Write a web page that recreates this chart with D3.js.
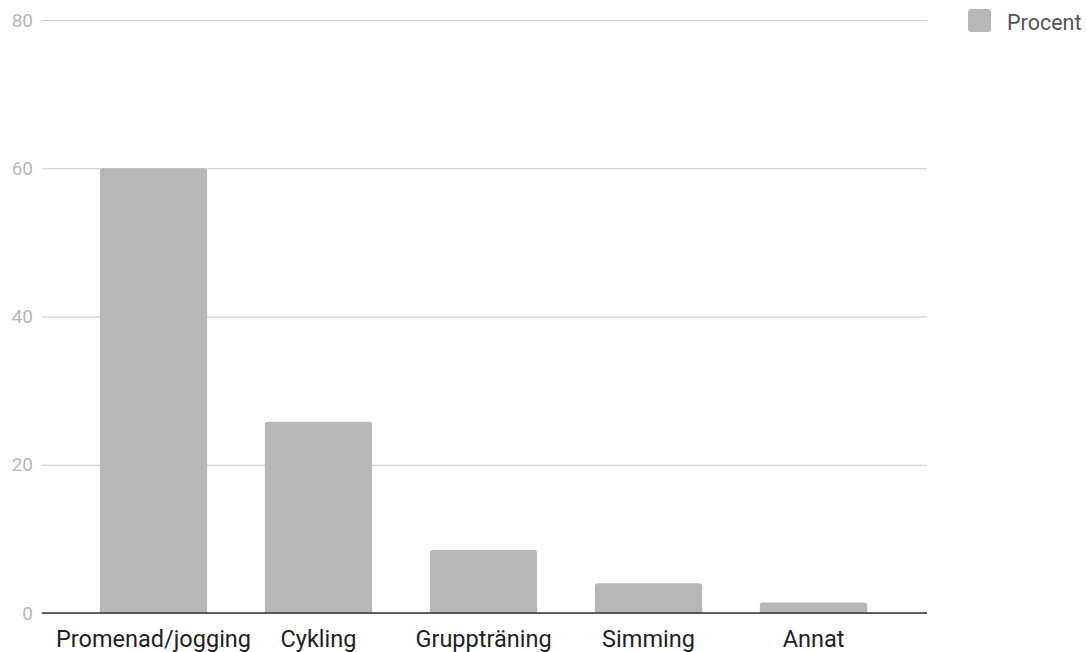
<!DOCTYPE html>
<html>
<head>
<meta charset="utf-8">
<script src="https://cdn.jsdelivr.net/npm/d3@7"></script>
<style>
  html, body { margin: 0; padding: 0; background: #fff; }
  svg { display: block; font-family: Roboto, "Noto Sans", sans-serif; }
</style>
</head>
<body>
<svg id="chart" width="1087" height="652"></svg>
<script>
// Share of respondents per activity type
const categories = ["Promenad/jogging", "Cykling", "Gruppträning", "Simming", "Annat"];
const values = [60, 25.8, 8.5, 4, 1.4];
const yTicks = [0, 20, 40, 60, 80];
const seriesName = "Procent";

const svg = d3.select("#chart");
const barColor = "#b7b7b7";

const plot = { left: 42, right: 927, top: 20, bottom: 613 };

const y = d3.scaleLinear().domain([0, 80]).range([plot.bottom, plot.top]);
const x = d3.scaleBand().domain(categories).range([71, 896]).paddingInner(0.35).paddingOuter(0.175);

// Horizontal gridlines and value labels
const yAxis = d3.axisLeft(y).tickValues(yTicks).tickSize(-(plot.right - plot.left)).tickPadding(9);
const gy = svg.append("g").attr("transform", `translate(${plot.left},0)`).call(yAxis);
gy.select(".domain").remove();
gy.selectAll(".tick line").attr("stroke", "#cccccc").attr("stroke-width", 1);
gy.selectAll(".tick text")
  .attr("fill", "#b8b8b8")
  .attr("font-size", 19)
  .attr("font-family", "Roboto, sans-serif");

// Bars
svg.append("g").selectAll("rect")
  .data(categories.map((c, i) => ({ c, v: values[i] })))
  .join("rect")
  .attr("x", d => x(d.c))
  .attr("width", x.bandwidth())
  .attr("y", d => y(d.v))
  .attr("height", d => y(0) - y(d.v))
  .attr("rx", 3)
  .attr("fill", barColor);

// Square off the bottom corners of each bar
svg.append("g").selectAll("rect")
  .data(categories.map((c, i) => ({ c, v: values[i] })))
  .join("rect")
  .attr("x", d => x(d.c))
  .attr("width", x.bandwidth())
  .attr("y", d => Math.max(y(d.v) + 3, y(0) - 4))
  .attr("height", d => y(0) - Math.max(y(d.v) + 3, y(0) - 4))
  .attr("fill", barColor);

// Category axis
const xAxis = d3.axisBottom(x).tickSize(0).tickPadding(17);
const gx = svg.append("g").attr("transform", `translate(0,${plot.bottom})`).call(xAxis);
gx.select(".domain").remove();
gx.selectAll(".tick text")
  .attr("fill", "#222222")
  .attr("font-size", 23.5)
  .attr("font-family", "Roboto, sans-serif");

// Baseline
svg.append("line")
  .attr("x1", plot.left).attr("x2", plot.right)
  .attr("y1", y(0)).attr("y2", y(0))
  .attr("stroke", "#333333").attr("stroke-width", 1.6);

// Legend
const lg = svg.append("g").attr("transform", "translate(968,9)");
lg.append("rect").attr("width", 23).attr("height", 23).attr("rx", 3).attr("fill", barColor);
lg.append("text")
  .attr("x", 39).attr("y", 21)
  .attr("fill", "#555555")
  .attr("font-size", 21.5)
  .attr("font-family", "Roboto, sans-serif")
  .text(seriesName);
</script>
</body>
</html>
